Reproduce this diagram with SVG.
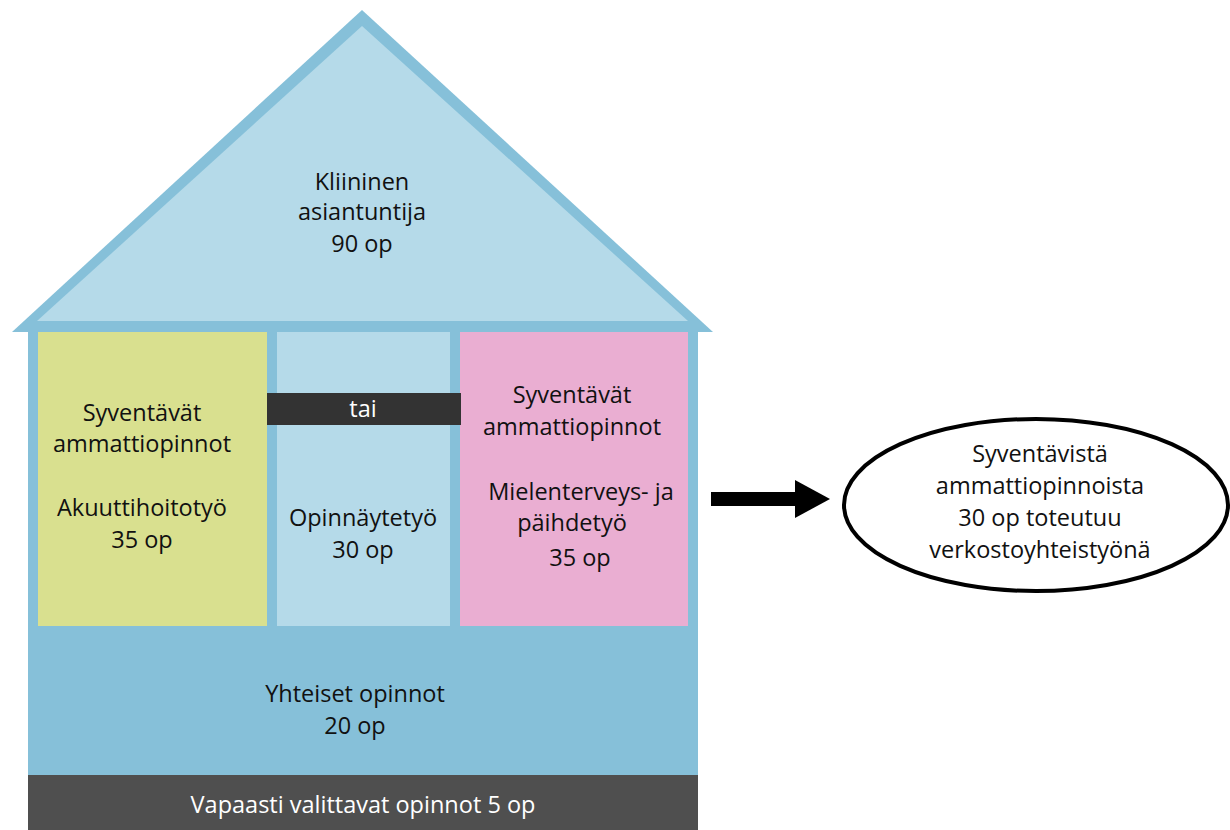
<svg xmlns="http://www.w3.org/2000/svg" width="1230" height="830" viewBox="0 0 1230 830">
  <style>
    .t { font-family: "Open Sans", "Noto Sans", "Liberation Sans", sans-serif; font-size: 23.5px; fill: #111; text-anchor: middle; }
    .w { fill: #ffffff; }
    .frame { fill: #86c0d9; }
    .light { fill: #b5dae9; }
  </style>
  <rect width="1230" height="830" fill="#ffffff"/>

  <!-- roof -->
  <g id="roof">
    <polygon class="frame" points="362,10 713,332 12,332"/>
    <polygon class="light" points="362,26 688,321 37,321"/>
    <text class="t" x="362" y="190">Kliininen</text>
    <text class="t" x="362" y="220">asiantuntija</text>
    <text class="t" x="362" y="252">90 op</text>
  </g>

  <!-- walls and shared studies -->
  <g id="yhteiset">
    <rect class="frame" x="28" y="330" width="670" height="446"/>
    <text class="t" x="355" y="702">Yhteiset opinnot</text>
    <text class="t" x="355" y="734">20 op</text>
  </g>

  <g id="vapaasti">
    <rect x="28" y="775" width="670" height="55" fill="#4f4f4f"/>
    <text class="t w" x="363" y="813">Vapaasti valittavat opinnot 5 op</text>
  </g>

  <g id="akuutti">
    <rect x="38" y="332" width="229" height="294" fill="#d9e08f"/>
    <text class="t" x="142" y="421">Syventävät</text>
    <text class="t" x="142" y="452">ammattiopinnot</text>
    <text class="t" x="142" y="516">Akuuttihoitotyö</text>
    <text class="t" x="142" y="548">35 op</text>
  </g>

  <g id="opinnaytetyo">
    <rect class="light" x="277" y="332" width="173" height="294"/>
    <text class="t" x="363" y="526">Opinnäytetyö</text>
    <text class="t" x="363" y="558">30 op</text>
  </g>

  <g id="mielenterveys">
    <rect x="460" y="332" width="228" height="294" fill="#eaaed2"/>
    <text class="t" x="572" y="403">Syventävät</text>
    <text class="t" x="572" y="435">ammattiopinnot</text>
    <text class="t" x="581" y="500">Mielenterveys- ja</text>
    <text class="t" x="572" y="531">päihdetyö</text>
    <text class="t" x="580" y="566">35 op</text>
  </g>

  <g id="tai">
    <rect x="267" y="393" width="194" height="32" fill="#333333"/>
    <text class="t w" x="363" y="417">tai</text>
  </g>

  <g id="verkosto">
    <ellipse cx="1036" cy="505" rx="192" ry="86" fill="#ffffff" stroke="#000" stroke-width="4"/>
    <text class="t" x="1040" y="462">Syventävistä</text>
    <text class="t" x="1040" y="494">ammattiopinnoista</text>
    <text class="t" x="1040" y="526">30 op toteutuu</text>
    <text class="t" x="1040" y="558">verkostoyhteistyönä</text>
  </g>

  <g id="connectors">
    <rect x="711" y="492" width="86" height="14" fill="#000"/>
    <polygon points="795,480 830,499 795,518" fill="#000"/>
  </g>
</svg>
